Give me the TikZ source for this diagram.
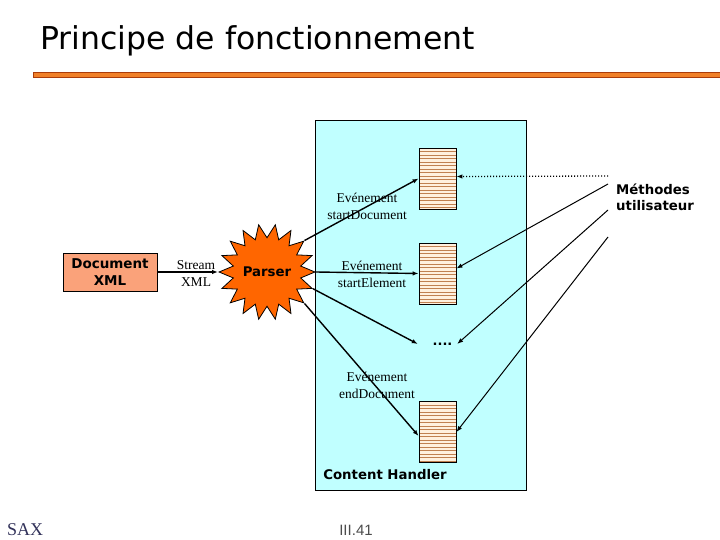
\documentclass[tikz,border=0pt]{standalone}
\usepackage{fontspec}
\setmainfont{Liberation Serif}
\newfontfamily\dvs{DejaVu Sans}
\newfontfamily\lsans{Liberation Sans}
\usetikzlibrary{shapes.geometric,arrows.meta}
\definecolor{cyanbg}{RGB}{192,255,255}
\definecolor{docfill}{RGB}{250,162,122}
\definecolor{parserfill}{RGB}{255,102,0}
\definecolor{stackfill}{RGB}{255,240,222}
\definecolor{stripecol}{RGB}{192,128,80}
\definecolor{rulefill}{RGB}{240,128,40}
\definecolor{ruledraw}{RGB}{170,60,10}
\definecolor{saxcol}{RGB}{50,50,90}
\begin{document}
\begin{tikzpicture}[x=1pt,y=-1pt,
  lbl/.style={font=\fontsize{13.5}{16.5}\selectfont, align=center, inner sep=0},
  bsans/.style={font=\dvs\bfseries\fontsize{13.3}{16}\selectfont},
  arr/.style={line width=1.4pt, -{Latex[length=6pt,width=4.5pt]}},
  uarr/.style={line width=1pt, -{Latex[length=6pt,width=4.5pt]}},
  stack/.style={draw, line width=0.8pt, fill=stackfill, minimum width=37pt, minimum height=61pt, inner sep=0,
    path picture={\foreach \k in {1,...,17}
      \draw[stripecol, line width=0.6pt] ([yshift=-\k*3.5pt]path picture bounding box.north west) -- ([yshift=-\k*3.5pt]path picture bounding box.north east);}}
]
\useasboundingbox (0,0) rectangle (720,540);

% title and rule
\node[anchor=base west, inner sep=0, font=\dvs\fontsize{31.5}{37}\selectfont] (title) at (40,50) {Principe de fonctionnement};
\draw[ruledraw, fill=rulefill, line width=0.8pt] (33,72) rectangle (722,77);

% content handler box
\node[draw, line width=0.8pt, fill=cyanbg, minimum width=211pt, minimum height=370pt, inner sep=0] (ch) at (420.5,305) {};
\node[bsans] (chlabel) at (385,475) {Content Handler};

% stacks
\node[stack] (h1) at (437.5,178.5) {};
\node[stack] (h2) at (437.5,273.5) {};
\node[stack] (h3) at (437.5,432) {};
\node[minimum width=39pt, inner sep=0, font=\dvs\bfseries\fontsize{13}{16}\selectfont] (dots) at (437.5,344) {\hspace*{10pt}....};

% document and parser
\node[draw, line width=0.8pt, fill=docfill, minimum width=94pt, minimum height=38pt, align=center, inner sep=0,
  font=\dvs\bfseries\fontsize{13.5}{17}\selectfont] (doc) at (110,272) {Document\\XML};
\node[star, star points=18, star point ratio=1.4, minimum size=92pt, shape border rotate=10, draw, line width=0.8pt, fill=parserfill,
  inner sep=0, font=\dvs\bfseries\fontsize{13.3}{16}\selectfont] (parser) at (267,272) {Parser};

\draw[arr] (doc.east) -- (parser.180);
\node[lbl] (stream) at (196,273.5) {Stream\\XML};

% parser events
\draw[arr] (parser.40) -- (h1.west);
\draw[arr] (parser.0) -- (h2.west);
\draw[arr] (parser.-20) -- (dots.west);
\draw[arr] (parser.-40) -- ([yshift=-4pt]h3.west);
\node[lbl] (ev1) at (367,206.5) {Evénement\\startDocument};
\node[lbl] (ev2) at (372,274.5) {Evénement\\startElement};
\node[lbl] (ev3) at (377,385.5) {Evénement\\endDocument};

% user methods
\node[bsans, align=left, anchor=west, inner sep=0] (meth) at (616,197) {Méthodes\\utilisateur};
\coordinate (m1) at (608,176);
\coordinate (m2) at (608,184);
\coordinate (m3) at (608,210);
\coordinate (m4) at (608,237);
\draw[uarr, dotted, line width=1.3pt] (m1) -- ([yshift=2pt]h1.east);
\draw[uarr] (m2) -- ([yshift=5pt]h2.east);
\draw[uarr] (m3) -- (dots.east);
\draw[uarr] (m4) -- (h3.east);

% footer
\node[anchor=base west, inner sep=0, text=saxcol, font=\fontsize{18}{20}\selectfont] (sax) at (7,535) {SAX};
\node[anchor=base, inner sep=0, text=black!70, font=\lsans\fontsize{15}{18}\selectfont] (page) at (356,535) {III.41};
\end{tikzpicture}
\end{document}
